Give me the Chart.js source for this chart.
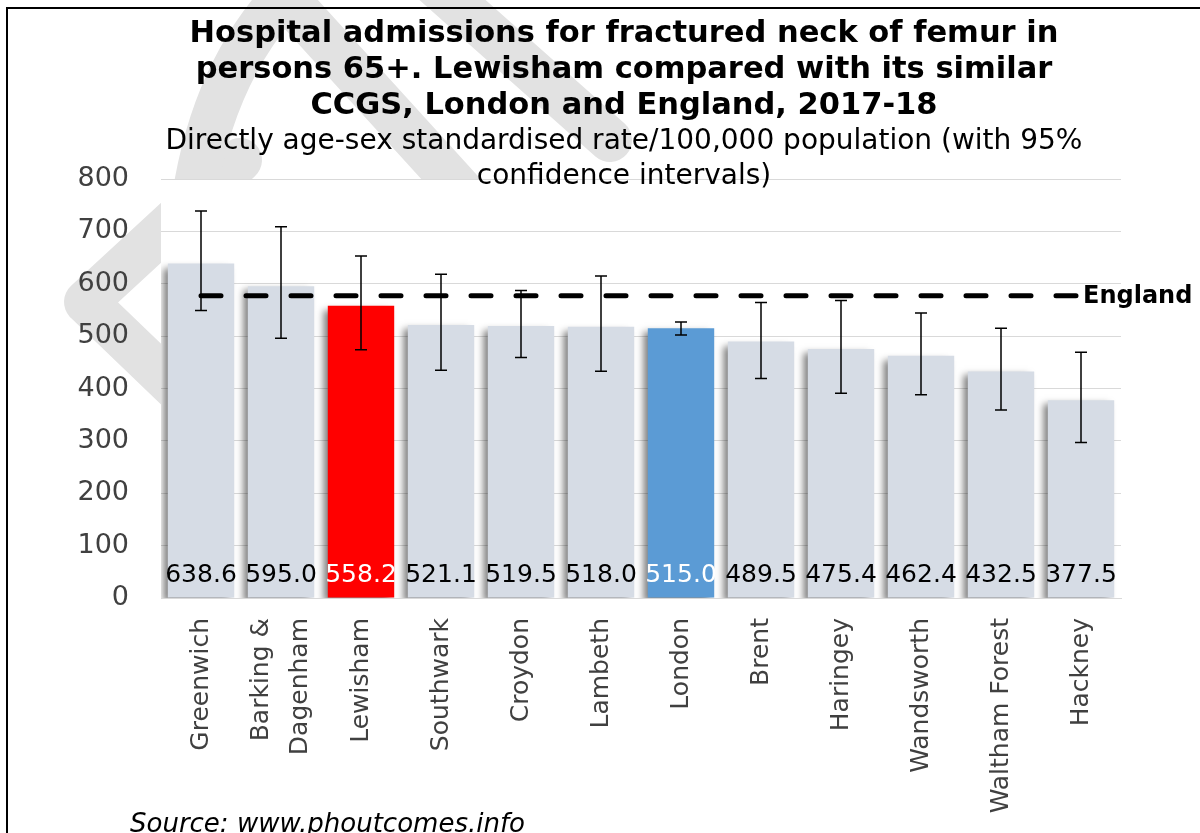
<!DOCTYPE html>
<html>
<head>
<meta charset="utf-8">
<script src="https://cdn.jsdelivr.net/npm/chart.js@4.4.1/dist/chart.umd.min.js"></script>
<style>
  html, body { margin: 0; padding: 0; background: #fff; overflow: hidden; }
  #wrap { position: relative; width: 1200px; height: 833px; }
  #chart { position: absolute; left: 0; top: 0; }
  #frame { position: absolute; left: 6px; top: 7px; width: 1400px; height: 1000px; border: 2px solid #000; box-sizing: border-box; pointer-events: none; }
</style>
</head>
<body>
<div id="wrap">
  <canvas id="chart" width="1200" height="833"></canvas>
  <div id="frame"></div>
</div>
<script>
// values
const AREAS = ["Greenwich", ["Barking &", "Dagenham"], "Lewisham", "Southwark", "Croydon", "Lambeth",
  "London", "Brent", "Haringey", "Wandsworth", "Waltham Forest", "Hackney"];
const RATES = [638.6, 595.0, 558.2, 521.1, 519.5, 518.0, 515.0, 489.5, 475.4, 462.4, 432.5, 377.5];
const CI_LOWER = [549, 496, 474, 435, 459, 433, 502, 419, 391, 388, 359, 297];
const CI_UPPER = [739, 709, 653, 618, 587, 615, 527, 564, 568, 544, 515, 469];
const ENGLAND = 577;
const Y_MIN = 0, Y_MAX = 800, Y_STEP = 100;

const TITLE = ["Hospital admissions for fractured neck of femur in",
  "persons 65+. Lewisham compared with its similar",
  "CCGS, London and England, 2017-18"];
const SUBTITLE = ["Directly age-sex standardised rate/100,000 population (with 95%",
  "confidence intervals)"];
const SOURCE = "Source: www.phoutcomes.info";

const FONT = "'DejaVu Sans', Verdana, sans-serif";
const HIGHLIGHT = { Lewisham: "#ff0000", London: "#5b9bd5" };
const BAR_GREY = "#d6dce5";

const areaName = (a) => (Array.isArray(a) ? a.join(" ") : a);
const barColors = AREAS.map((a) => HIGHLIGHT[areaName(a)] || BAR_GREY);

// grey logo watermark behind the title, hidden by the white plot area
const watermark = {
  id: "watermark",
  beforeDraw(chart) {
    const { ctx, chartArea: a } = chart;
    ctx.save();
    ctx.strokeStyle = "#e2e2e2";
    ctx.lineWidth = 44;
    ctx.lineCap = "round";
    ctx.lineJoin = "round";
    ctx.beginPath();
    ctx.moveTo(240, 160); ctx.lineTo(86, 302); ctx.lineTo(240, 450);
    ctx.stroke();
    ctx.beginPath();
    ctx.moveTo(190, 230); ctx.quadraticCurveTo(205, 70, 300, -20);
    ctx.stroke();
    ctx.beginPath();
    ctx.moveTo(270, -20); ctx.lineTo(470, 200);
    ctx.stroke();
    ctx.beginPath();
    ctx.moveTo(430, -20); ctx.lineTo(610, 140);
    ctx.stroke();
    ctx.fillStyle = "#fff";
    ctx.fillRect(a.left, a.top, a.right - a.left, a.bottom - a.top);
    ctx.restore();
  },
};

const barShadow = {
  id: "barShadow",
  beforeDatasetDraw(chart, args) {
    if (args.meta.type !== "bar") return;
    const ctx = chart.ctx;
    ctx.save();
    ctx.shadowColor = "rgba(0,0,0,0.5)";
    ctx.shadowBlur = 7;
    ctx.shadowOffsetX = -5;
    ctx.shadowOffsetY = 4;
  },
  afterDatasetDraw(chart, args) {
    if (args.meta.type === "bar") chart.ctx.restore();
  },
};

const overlays = {
  id: "overlays",
  afterDatasetsDraw(chart) {
    const { ctx, scales: { x, y } } = chart;
    const bars = chart.getDatasetMeta(0).data;
    const line = chart.getDatasetMeta(1).data;
    ctx.save();

    // 95% confidence intervals
    ctx.strokeStyle = "#000";
    ctx.lineWidth = 1.5;
    bars.forEach((bar, i) => {
      const top = y.getPixelForValue(CI_UPPER[i]);
      const bot = y.getPixelForValue(CI_LOWER[i]);
      ctx.beginPath();
      ctx.moveTo(bar.x, top); ctx.lineTo(bar.x, bot);
      ctx.moveTo(bar.x - 6, top); ctx.lineTo(bar.x + 6, top);
      ctx.moveTo(bar.x - 6, bot); ctx.lineTo(bar.x + 6, bot);
      ctx.stroke();
    });

    // value labels near the base of each bar
    ctx.font = "25px " + FONT;
    ctx.textAlign = "center";
    ctx.textBaseline = "middle";
    const base = y.getPixelForValue(0);
    bars.forEach((bar, i) => {
      ctx.fillStyle = barColors[i] === BAR_GREY ? "#000" : "#fff";
      ctx.fillText(RATES[i].toFixed(1), bar.x, base - 23);
    });

    // England label at the end of the dashed line
    const last = line[line.length - 1];
    ctx.font = "bold 24px " + FONT;
    ctx.fillStyle = "#000";
    ctx.textAlign = "left";
    ctx.fillText("England", last.x + 2, last.y + 1);

    // rotated category labels
    ctx.font = "25px " + FONT;
    ctx.fillStyle = "#404040";
    ctx.textAlign = "right";
    AREAS.forEach((a, i) => {
      const lines = Array.isArray(a) ? a : [a];
      const cx = x.getPixelForValue(i);
      lines.forEach((t, k) => {
        ctx.save();
        ctx.translate(cx + (k - (lines.length - 1) / 2) * 39, x.top + 20);
        ctx.rotate(-Math.PI / 2);
        ctx.fillText(t, 0, 0);
        ctx.restore();
      });
    });

    // source note
    ctx.font = "italic 26px " + FONT;
    ctx.fillStyle = "#000";
    ctx.textAlign = "left";
    ctx.textBaseline = "alphabetic";
    ctx.fillText(SOURCE, 130, 832);
    ctx.restore();
  },
};

new Chart(document.getElementById("chart"), {
  data: {
    labels: AREAS.map(areaName),
    datasets: [
      {
        type: "bar",
        data: RATES,
        backgroundColor: barColors,
        borderWidth: 0,
        categoryPercentage: 1,
        barPercentage: 0.83,
        order: 2,
      },
      {
        type: "line",
        data: AREAS.map(() => ENGLAND),
        borderColor: "#000",
        borderWidth: 5,
        borderDash: [20, 25],
        borderCapStyle: "round",
        pointRadius: 0,
        fill: false,
        order: 1,
      },
    ],
  },
  options: {
    responsive: false,
    animation: false,
    layout: { padding: { left: 48, right: 0, top: 0, bottom: 0 } },
    plugins: {
      legend: { display: false },
      tooltip: { enabled: false },
      title: {
        display: true,
        text: TITLE,
        color: "#000",
        font: { family: FONT, size: 30.5, weight: "bold", lineHeight: 36 / 30.5 },
        padding: { top: 16, bottom: 0 },
      },
      subtitle: {
        display: true,
        text: SUBTITLE,
        color: "#000",
        font: { family: FONT, size: 28, lineHeight: 35 / 28 },
        padding: { top: 0, bottom: -15 },
      },
    },
    scales: {
      x: {
        grid: { display: false },
        border: { display: true, color: "#d9d9d9", width: 1 },
        ticks: { display: false },
        afterFit: (s) => { s.height = 235; },
      },
      y: {
        min: Y_MIN,
        max: Y_MAX,
        ticks: { stepSize: Y_STEP, padding: 32, color: "#404040", font: { family: FONT, size: 27 } },
        grid: { color: "#d9d9d9", lineWidth: 1, drawTicks: false },
        border: { display: false },
        afterFit: (s) => { s.width = 113; },
      },
      y2: {
        position: "right",
        display: true,
        grid: { display: false },
        border: { display: false },
        ticks: { display: false },
        afterFit: (s) => { s.width = 79; },
      },
    },
  },
  plugins: [watermark, barShadow, overlays],
});
</script>
</body>
</html>
